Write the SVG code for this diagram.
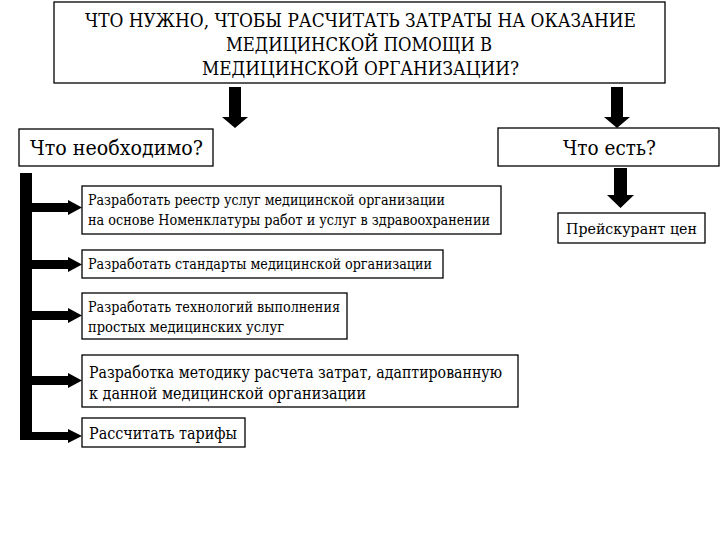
<svg xmlns="http://www.w3.org/2000/svg" width="720" height="540" viewBox="0 0 720 540">
<style>
  .box { fill: #fff; stroke: #000; stroke-width: 1.3; }
  text { font-family: "DejaVu Serif", serif; fill: #000; }
  .arr { fill: #000; }
</style>
<rect width="720" height="540" fill="#fff"/>
<g id="connectors">
  <path class="arr" d="M229,87 H241 V117 H248 L235,128 L222,117 H229 Z"/>
  <path class="arr" d="M611,87 H623 V117 H630 L617,128 L604,117 H611 Z"/>
  <path class="arr" d="M614,168 H627 V195 H634 L620.5,208 L607,195 H614 Z"/>
  <rect class="arr" x="20" y="173" width="12" height="267"/>
  <path class="arr" d="M32,203 H68 V200 L82,207.5 L68,215 V212 H32 Z"/>
  <path class="arr" d="M32,260 H68 V257 L82,264.5 L68,272 V269 H32 Z"/>
  <path class="arr" d="M32,311 H68 V308 L82,315.5 L68,323 V320 H32 Z"/>
  <path class="arr" d="M32,376 H68 V373 L82,380.5 L68,388 V385 H32 Z"/>
  <path class="arr" d="M32,432 H68 V429 L82,436 L68,443 V440 H32 Z"/>
</g>
<g id="title">
  <rect class="box" x="54" y="2" width="611" height="81"/>
  <text font-size="18" x="85" y="27" textLength="551" lengthAdjust="spacingAndGlyphs">ЧТО НУЖНО, ЧТОБЫ РАСЧИТАТЬ ЗАТРАТЫ НА ОКАЗАНИЕ</text>
  <text font-size="18" x="226" y="51" textLength="266" lengthAdjust="spacingAndGlyphs">МЕДИЦИНСКОЙ ПОМОЩИ В</text>
  <text font-size="18" x="202" y="75" textLength="317" lengthAdjust="spacingAndGlyphs">МЕДИЦИНСКОЙ ОРГАНИЗАЦИИ?</text>
</g>
<g id="need">
  <rect class="box" x="19" y="129" width="194" height="37"/>
  <text font-size="21" x="30" y="155" textLength="173" lengthAdjust="spacingAndGlyphs">Что необходимо?</text>
</g>
<g id="have">
  <rect class="box" x="498" y="128" width="221" height="38"/>
  <text font-size="21" x="563" y="155" textLength="93" lengthAdjust="spacingAndGlyphs">Что есть?</text>
</g>
<g id="price">
  <rect class="box" x="558" y="213" width="147" height="30"/>
  <text font-size="15" x="566" y="234" textLength="131" lengthAdjust="spacingAndGlyphs">Прейскурант цен</text>
</g>
<g id="step1">
  <rect class="box" x="82" y="186" width="419" height="48"/>
  <text font-size="14" x="88" y="205" textLength="357" lengthAdjust="spacingAndGlyphs">Разработать реестр услуг медицинской организации</text>
  <text font-size="14" x="88" y="225" textLength="402" lengthAdjust="spacingAndGlyphs">на основе Номенклатуры работ и услуг в здравоохранении</text>
</g>
<g id="step2">
  <rect class="box" x="82" y="250" width="361" height="28"/>
  <text font-size="14" x="88" y="269" textLength="344" lengthAdjust="spacingAndGlyphs">Разработать стандарты медицинской организации</text>
</g>
<g id="step3">
  <rect class="box" x="82" y="293" width="265" height="46"/>
  <text font-size="14" x="88" y="312" textLength="252" lengthAdjust="spacingAndGlyphs">Разработать технологий выполнения</text>
  <text font-size="14" x="88" y="332" textLength="196" lengthAdjust="spacingAndGlyphs">простых медицинских услуг</text>
</g>
<g id="step4">
  <rect class="box" x="82" y="355" width="436" height="52"/>
  <text font-size="16" x="89" y="378" textLength="413" lengthAdjust="spacingAndGlyphs">Разработка методику расчета затрат, адаптированную</text>
  <text font-size="16" x="89" y="399" textLength="277" lengthAdjust="spacingAndGlyphs">к данной медицинской организации</text>
</g>
<g id="step5">
  <rect class="box" x="82" y="418" width="163" height="29"/>
  <text font-size="16" x="89" y="439" textLength="148" lengthAdjust="spacingAndGlyphs">Рассчитать тарифы</text>
</g>
</svg>
